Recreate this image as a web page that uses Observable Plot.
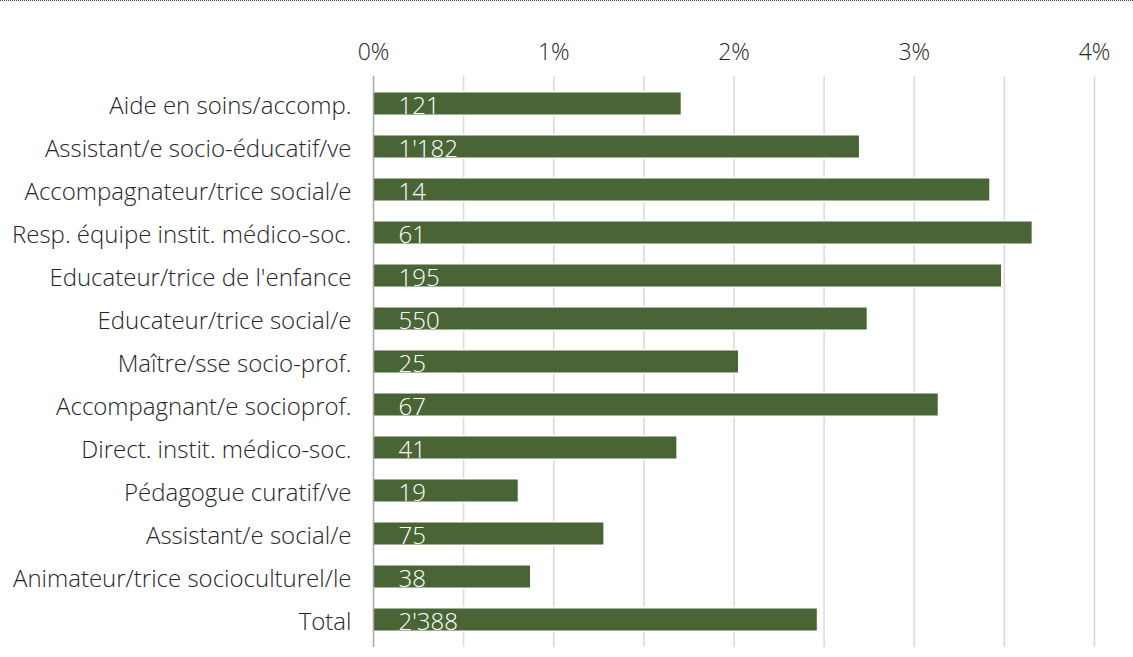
<!DOCTYPE html>
<html>
<head>
<meta charset="utf-8">
<script src="https://cdn.jsdelivr.net/npm/d3@7"></script>
<script src="https://cdn.jsdelivr.net/npm/@observablehq/plot@0.6"></script>
<style>
  html, body { margin: 0; padding: 0; background: #fff; }
  #wrap { position: relative; width: 1133px; height: 657px; }
  #topline { position: absolute; left: 0; top: 0; width: 1133px; border-top: 1px dotted #444; }
  svg { font-family: "Open Sans", sans-serif; }
</style>
</head>
<body>
<div id="wrap"><div id="topline"></div></div>
<script>
const categories = [
  "Aide en soins/accomp.",
  "Assistant/e socio-éducatif/ve",
  "Accompagnateur/trice social/e",
  "Resp. équipe instit. médico-soc.",
  "Educateur/trice de l'enfance",
  "Educateur/trice social/e",
  "Maître/sse socio-prof.",
  "Accompagnant/e socioprof.",
  "Direct. instit. médico-soc.",
  "Pédagogue curatif/ve",
  "Assistant/e social/e",
  "Animateur/trice socioculturel/le",
  "Total"
];
const shares = [1.707, 2.696, 3.419, 3.654, 3.484, 2.739, 2.025, 3.133, 1.683, 0.803, 1.278, 0.871, 2.462];
const counts = ["121", "1'182", "14", "61", "195", "550", "25", "67", "41", "19", "75", "38", "2'388"];
const xTicks = [0, 1, 2, 3, 4];
const gridTicks = [0.5, 1, 1.5, 2, 2.5, 3, 3.5, 4];

const data = categories.map((c, i) => ({category: c, share: shares[i], count: counts[i]}));

const chart = Plot.plot({
  width: 1133,
  height: 657,
  marginTop: 76,
  marginBottom: 10,
  marginLeft: 373,
  marginRight: 39,
  style: {fontFamily: "'Open Sans', sans-serif", fontWeight: 300, color: "#262626"},
  x: {domain: [0, 4]},
  y: {domain: categories, padding: 0},
  marks: [
    Plot.ruleX(gridTicks, {stroke: "#d9d9d9", strokeWidth: 1.5}),
    Plot.barX(data, {y: "category", x: "share", fill: "#4a6535", stroke: "#ffffff", strokeWidth: 3, paintOrder: "stroke", insetTop: 10.5, insetBottom: 10.5}),
    Plot.ruleX([0], {stroke: "#a6a6a6", strokeWidth: 1.5}),
    Plot.text(data, {y: "category", x: 0, text: "count", textAnchor: "start", dx: 25, dy: 2.5, fill: "white", fontSize: 24, fontWeight: 300}),
    Plot.axisX({anchor: "top", ticks: xTicks, tickFormat: d => d + "%", tickSize: 0, tickPadding: 17, fontSize: 23, label: null}),
    Plot.axisY({tickSize: 0, tickPadding: 22, fontSize: 24, dy: 2.5, label: null})
  ]
});
document.getElementById("wrap").prepend(chart);
</script>
</body>
</html>
